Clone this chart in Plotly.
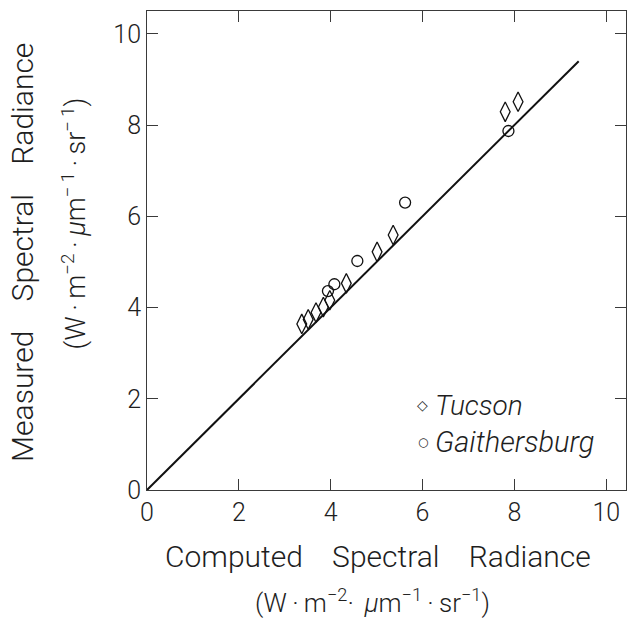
import plotly.graph_objects as go

# Data (Computed vs Measured spectral radiance)
tucson_computed = [3.37, 3.51, 3.68, 3.84, 3.98, 4.34, 5.01, 5.36, 7.80, 8.08]
tucson_measured = [3.64, 3.74, 3.89, 4.01, 4.16, 4.53, 5.22, 5.59, 8.29, 8.51]
gaith_computed = [3.94, 4.08, 4.58, 5.62, 7.87]
gaith_measured = [4.36, 4.51, 5.02, 6.30, 7.87]
line_x = [0.0, 9.4]
line_y = [0.0, 9.4]
tick_vals = [0, 2, 4, 6, 8, 10]
tick_text = ["0", "2", "4", "6", "8", "10"]

FONT = "Roboto, Liberation Sans, sans-serif"
W = 300
INK = "#1e1e1e"
AX = "#3a3a3a"

fig = go.Figure()
fig.add_trace(go.Scatter(x=line_x, y=line_y, mode="lines",
                         line=dict(color="#111", width=2), showlegend=False,
                         hoverinfo="skip"))
fig.add_trace(go.Scatter(x=tucson_computed, y=tucson_measured, mode="markers",
                         name="Tucson",
                         marker=dict(symbol="diamond-tall-open", size=14,
                                     color="#111", line=dict(width=1.3, color="#111")),
                         showlegend=False))
fig.add_trace(go.Scatter(x=gaith_computed, y=gaith_measured, mode="markers",
                         name="Gaithersburg",
                         marker=dict(symbol="circle-open", size=11,
                                     color="#111", line=dict(width=1.3, color="#111")),
                         showlegend=False))

axis_common = dict(
    showgrid=False, zeroline=False, showline=True, linecolor=AX, linewidth=1,
    mirror="ticks", ticks="inside", ticklen=11, tickwidth=1, tickcolor=AX,
    tickmode="array", tickvals=tick_vals, ticktext=tick_text,
    tickfont=dict(family=FONT, size=25, color=INK, weight=W),
)
fig.update_xaxes(range=[0, 10.43], **axis_common)
fig.update_yaxes(range=[0, 10.5], **axis_common)

ann = []
sp = "\u00a0\u00a0\u00a0\u00a0"
ts = "\u2009"
unit_x = ("(W" + ts + "\u00b7" + ts + "m<sup>\u2212" + "2</sup>\u00b7" + ts + ts
          + "<i>\u03bc</i>m<sup>\u22121</sup>" + ts + "\u00b7" + ts + "sr<sup>\u22121</sup>)")
unit_y = ("(W" + ts + "\u00b7" + ts + "m<sup>\u2212" + "2</sup>" + ts + "\u00b7" + ts
          + "<i>\u03bc</i>m<sup>\u2212" + ts + "1</sup>" + ts + "\u00b7" + ts
          + "sr<sup>\u2212" + ts + "1</sup>)")
# Axis titles (two lines each)
ann.append(dict(text="Computed" + sp + "Spectral" + sp + "Radiance", x=0.482, y=-0.138,
                xref="paper", yref="paper", showarrow=False, xanchor="center", yanchor="middle",
                font=dict(family=FONT, size=30, color=INK, weight=W)))
ann.append(dict(text=unit_x,
                x=0.47, y=-0.232, xref="paper", yref="paper", showarrow=False,
                xanchor="center", yanchor="middle",
                font=dict(family=FONT, size=26, color=INK, weight=W)))
ann.append(dict(text="Measured" + sp + "Spectral" + sp + "Radiance", x=-0.259, y=0.497,
                xref="paper", yref="paper", showarrow=False, textangle=-90,
                xanchor="center", yanchor="middle",
                font=dict(family=FONT, size=30, color=INK, weight=W)))
ann.append(dict(text=unit_y,
                x=-0.152, y=0.557, xref="paper", yref="paper", showarrow=False, textangle=-90,
                xanchor="center", yanchor="middle",
                font=dict(family=FONT, size=27, color=INK, weight=W)))
# Legend drawn as text
ann.append(dict(text="\u25c7", x=0.576, y=0.177, xref="paper", yref="paper", showarrow=False,
                xanchor="center", yanchor="middle", font=dict(family="DejaVu Sans", size=14, color=INK)))
ann.append(dict(text="<i>Tucson</i>", x=0.597, y=0.177, xref="paper", yref="paper", showarrow=False,
                xanchor="left", yanchor="middle", font=dict(family=FONT, size=28, color=INK, weight=W)))
ann.append(dict(text="\u25cb", x=0.576, y=0.100, xref="paper", yref="paper", showarrow=False,
                xanchor="center", yanchor="middle", font=dict(family="DejaVu Sans", size=12, color=INK)))
ann.append(dict(text="<i>Gaithersburg</i>", x=0.597, y=0.100, xref="paper", yref="paper", showarrow=False,
                xanchor="left", yanchor="middle", font=dict(family=FONT, size=29, color=INK, weight=W)))

fig.update_layout(
    width=628, height=626,
    margin=dict(l=147, r=2, t=11, b=136),
    paper_bgcolor="white", plot_bgcolor="white",
    annotations=ann, showlegend=False,
)

fig.write_html("out.html")
